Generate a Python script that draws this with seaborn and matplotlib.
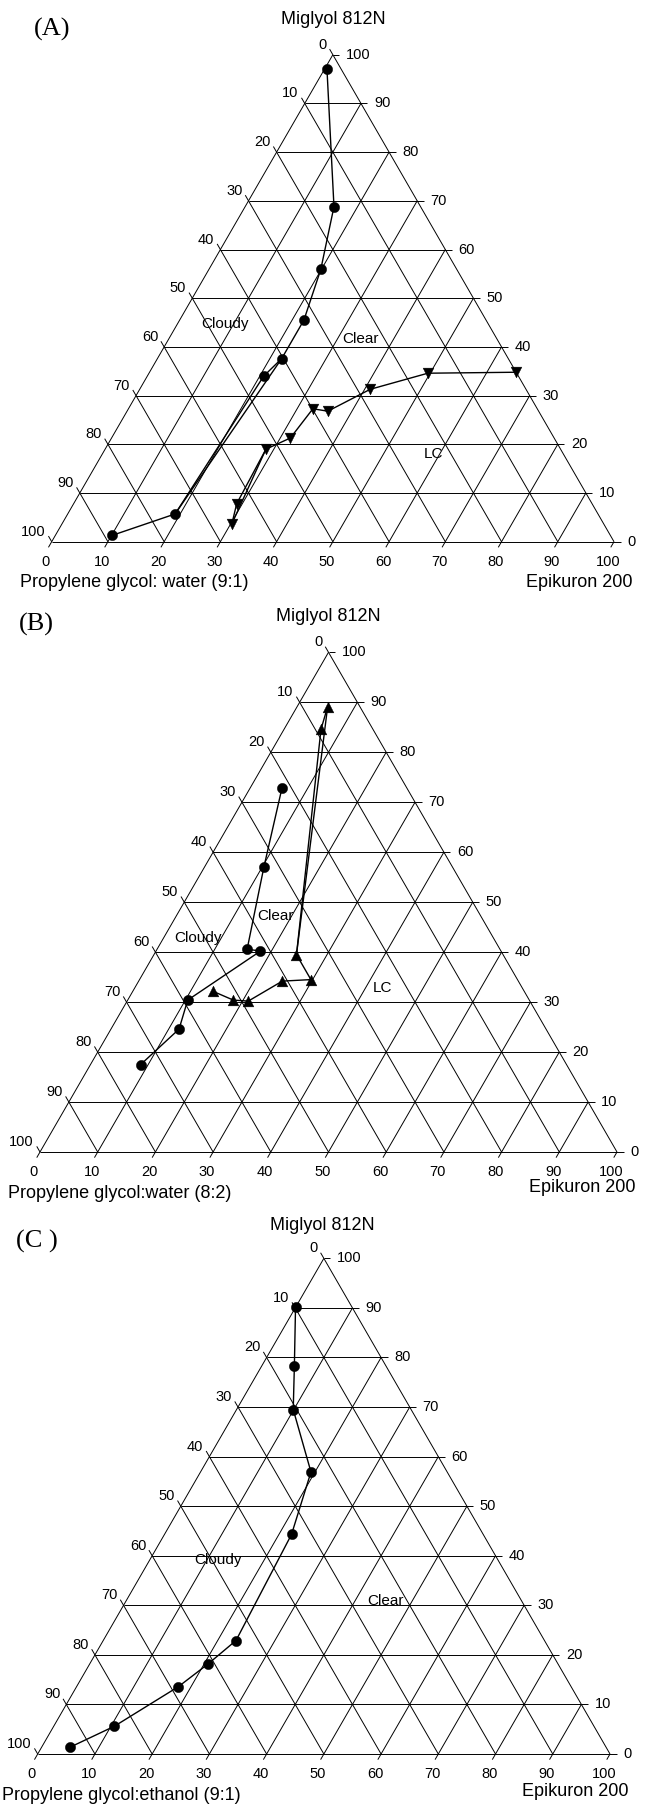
import numpy as np
import pandas as pd
import matplotlib
matplotlib.use("Agg")
import matplotlib.pyplot as plt
import seaborn as sns

sns.set_theme(style="white")
plt.rcParams['font.family'] = ['Liberation Sans', 'DejaVu Sans']

# ---------------- data (percent Epikuron 200, percent Miglyol 812N) ----------------
a_circ_epikuron = [0.4, 15.8, 19.9, 22.1, 22.1, 20.7, 19.1, 10.1]
a_circ_miglyol = [97.1, 68.8, 55.9, 45.5, 37.6, 34.0, 5.7, 1.3]
a_tri_epikuron = [65.2, 49.6, 41.0, 35.7, 32.8, 31.8, 28.6, 29.0, 30.2]
a_tri_miglyol = [34.8, 34.6, 31.3, 26.8, 27.3, 21.3, 19.0, 7.8, 3.7]

b_circ_epikuron = [5.5, 10.3, 15.6, 18.1, 10.4, 11.8, 8.7]
b_circ_miglyol = [72.9, 57.0, 40.6, 40.2, 30.4, 24.6, 17.5]
b_tri_epikuron = [5.3, 6.4, 24.7, 29.7, 24.9, 21.0, 18.3, 13.8]
b_tri_miglyol = [89.1, 84.6, 39.5, 34.5, 34.2, 30.2, 30.4, 32.2]

c_circ_epikuron = [0.0, 5.7, 9.9, 19.3, 22.2, 23.2, 20.7, 17.8, 10.6, 5.0]
c_circ_miglyol = [90.1, 78.3, 69.5, 56.9, 44.3, 22.9, 18.2, 13.6, 5.6, 1.4]

tick_values = [0, 10, 20, 30, 40, 50, 60, 70, 80, 90, 100]

top_label = "Miglyol 812N"
right_label = "Epikuron 200"
left_labels = ["Propylene glycol: water (9:1)", "Propylene glycol:water (8:2)",
               "Propylene glycol:ethanol (9:1)"]
panel_letters = ["(A)", "(B)", "(C )"]
region_labels = [["Cloudy", "Clear", "LC"], ["Cloudy", "Clear", "LC"], ["Cloudy", "Clear"]]

W, H = 648, 1805
SQ = np.sqrt(3) / 2


def tern(e, m):
    e = np.asarray(e, float)
    m = np.asarray(m, float)
    return e + m / 2, m * SQ


fig = plt.figure(figsize=(W / 100, H / 100), dpi=100)

panels = [
    dict(bl=(51.7, 541.7), side=562.3, region=(0, 600),
         letter_xy=(52, 29), title_xy=(333, 19),
         left_xy=(20, 583), right_xy=(632, 583),
         regions=[(30.9, 44.7), (54.9, 41.6), (67.9, 18.1)],
         series=[(a_circ_epikuron, a_circ_miglyol, 'o', [[0, 1, 2, 3, 4, 5, 6, 7], [4, 6]]),
                 (a_tri_epikuron, a_tri_miglyol, 'v', [[0, 1, 2, 3, 4, 5, 6, 7, 8], [6, 8]])]),
    dict(bl=(40.0, 1152.0), side=577.0, region=(600, 1205),
         letter_xy=(36, 624), title_xy=(328, 617),
         left_xy=(8, 1193), right_xy=(635, 1188),
         regions=[(27.4, 42.9), (40.9, 47.2), (59.4, 32.9)],
         series=[(b_circ_epikuron, b_circ_miglyol, 'o', [[0, 1, 2, 3, 4, 5, 6]]),
                 (b_tri_epikuron, b_tri_miglyol, '^', [[0, 1, 2, 3, 4, 5, 6, 7], [0, 2]])]),
    dict(bl=(37.7, 1754.0), side=572.3, region=(1205, 1805),
         letter_xy=(37, 1241), title_xy=(322, 1226),
         left_xy=(2, 1795), right_xy=(628, 1792),
         regions=[(31.5, 39.2), (60.7, 30.9)],
         series=[(c_circ_epikuron, c_circ_miglyol, 'o', [[0, 1, 2, 3, 4, 5, 6, 7, 8, 9]])]),
]

GRID = dict(color='black', lw=0.7, solid_capstyle='butt')

for k, p in enumerate(panels):
    bx, by = p['bl']
    u = p['side'] / 100.0
    t0, t1 = p['region']
    ax = fig.add_axes([0, 1 - t1 / H, 1, (t1 - t0) / H])
    ax.set_xlim((0 - bx) / u, (W - bx) / u)
    ax.set_ylim((by - t1) / u, (by - t0) / u)
    ax.axis('off')

    def P(xpix, ypix):
        return (xpix - bx) / u, (by - ypix) / u

    tk = 6.5 / u  # tick length in units

    for v in tick_values:
        # horizontal (Miglyol) lines + right ticks
        ax.plot([v / 2, 100 - v / 2 + tk], [v * SQ, v * SQ], **GRID)
        # constant Epikuron lines (parallel to left edge) + bottom ticks
        x0, y0 = v, 0
        x1, y1 = tern(v, 100 - v)
        ax.plot([x0 - 0.5 * tk, x1], [y0 - SQ * tk, y1], **GRID)
        # constant PG lines (parallel to right edge) + left ticks
        xl, yl = tern(0, 100 - v)
        ax.plot([xl - 0.5 * tk, 100 - v], [yl + SQ * tk, 0], **GRID)

        # labels
        xr, yr = tern(100 - v, v)
        ax.text(xr + 13 / u, yr, str(v), ha='left', va='center', fontsize=10.5, color='black')
        xl, yl = tern(0, v)
        ax.text(xl - 6 / u, yl + 10 / u, str(100 - v), ha='right', va='center',
                fontsize=10.5, color='black')
        ax.text(v - 6 / u, -20 / u, str(v), ha='center', va='center', fontsize=10.5,
                color='black')

    # data
    for e, m, mk, paths in p['series']:
        x, y = tern(e, m)
        for path in paths:
            df = pd.DataFrame({'x': x[path], 'y': y[path], 'o': np.arange(len(path))})
            sns.lineplot(data=df, x='x', y='y', sort=False, estimator=None, color='black',
                         lw=1.0, ax=ax, zorder=3)
        dfp = pd.DataFrame({'x': x, 'y': y})
        sns.scatterplot(data=dfp, x='x', y='y', marker=mk, s=55 if mk == 'o' else 60,
                        color='black', edgecolor='black', linewidth=0.3, ax=ax, zorder=4)

    # region labels
    for (xf, mm), lab in zip(p['regions'], region_labels[k]):
        ax.text(xf, mm * SQ, lab, ha='center', va='center', fontsize=11, color='black', zorder=5)

    # titles
    ax.text(*P(*p['title_xy']), top_label, ha='center', va='center', fontsize=13, color='black')
    ax.text(*P(*p['left_xy']), left_labels[k], ha='left', va='center', fontsize=13,
            color='black')
    ax.text(*P(*p['right_xy']), right_label, ha='right', va='center', fontsize=13,
            color='black')
    ax.text(*P(*p['letter_xy']), panel_letters[k], ha='center', va='center', fontsize=19,
            color='black', family=['Liberation Serif', 'DejaVu Serif'])
    ax.set_xlabel('')
    ax.set_ylabel('')

fig.savefig("out.png", dpi=100)
